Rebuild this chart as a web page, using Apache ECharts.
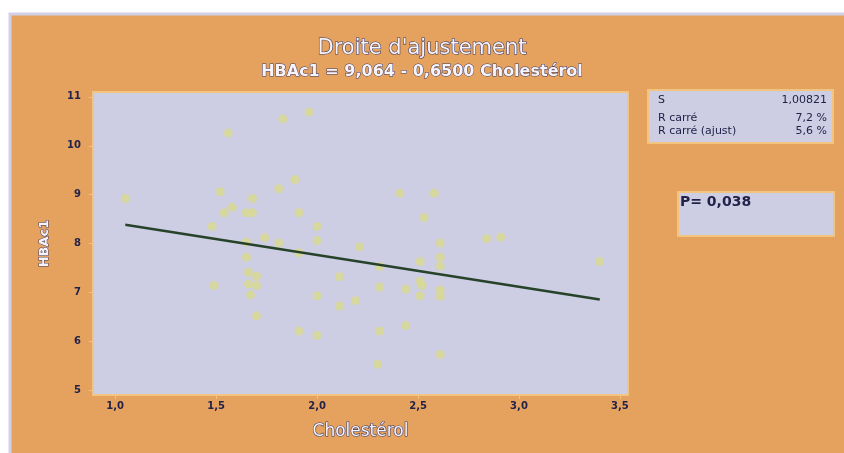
<!DOCTYPE html>
<html>
	<head>
		<meta charset="utf-8">
		<title>Droite d'ajustement</title>
		<script src="https://cdn.jsdelivr.net/npm/echarts@6/dist/echarts.min.js"></script>
		<style>
			html, body { margin: 0; padding: 0; background: #fff; }
		</style>
	</head>
	<body>
		<div id="main" style="width: 844px;height:453px;"></div>
		<script type="text/javascript">
			// données
			var cholesterol = [1.05, 1.56, 1.83, 1.96, 1.52, 1.68, 1.81, 1.89, 1.58, 1.54,
				1.65, 1.68, 1.91, 1.48, 2.00, 1.74, 1.65, 1.81, 2.00, 1.91,
				1.65, 1.66, 1.70, 1.66, 1.70, 1.49, 1.67, 2.00, 2.11, 2.11,
				2.19, 2.21, 1.70, 1.91, 2.00, 2.41, 2.58, 2.53, 2.61, 2.84,
				2.91, 2.61, 2.51, 2.61, 2.31, 3.40, 2.31, 2.44, 2.51, 2.52,
				2.51, 2.61, 2.61, 2.44, 2.31, 2.30, 2.61];
			var hba1c = [8.92, 10.26, 10.55, 10.69, 9.06, 8.92, 9.12, 9.31, 8.74, 8.63,
				8.63, 8.63, 8.63, 8.35, 8.35, 8.12, 8.03, 8.01, 8.06, 7.81,
				7.72, 7.41, 7.33, 7.17, 7.14, 7.14, 6.95, 6.93, 7.32, 6.72,
				6.83, 7.93, 6.52, 6.21, 6.12, 9.03, 9.03, 8.53, 8.01, 8.10,
				8.13, 7.72, 7.63, 7.54, 7.53, 7.63, 7.11, 7.07, 7.23, 7.14,
				6.93, 7.05, 6.92, 6.32, 6.21, 5.53, 5.73];
			var xTicks = [1.0, 1.5, 2.0, 2.5, 3.0, 3.5];
			var yTicks = [5, 6, 7, 8, 9, 10, 11];
			var intercept = 9.064;
			var slope = -0.65;
			var statLabels = ['S', 'R carré', 'R carré (ajust)'];
			var statValues = ['1,00821', '7,2 %', '5,6 %'];
			var pValue = 'P= 0,038';

			var points = cholesterol.map(function(c, i) {
				return [c, hba1c[i]];
			});
			var xMin = Math.min.apply(null, cholesterol);
			var xMax = Math.max.apply(null, cholesterol);
			var fitLine = [
				[xMin, intercept + slope * xMin],
				[xMax, intercept + slope * xMax]
			];

			function virgule(v) {
				return v.toFixed(1).replace('.', ',');
			}

			var fond = '#CDCDE3';
			var bord = '#F3C47F';
			var texteSombre = '#23234a';

			var myChart = echarts.init(document.getElementById('main'));
			var statTexts = [];
			statLabels.forEach(function(lbl, i) {
				var y = [95, 113, 126][i];
				statTexts.push({
					type: 'text', left: 658, top: y,
					style: { text: lbl, fill: texteSombre, font: '11px "DejaVu Sans"' }
				});
				statTexts.push({
					type: 'text', right: 844 - 827, top: y,
					style: { text: statValues[i], fill: texteSombre, font: '11px "DejaVu Sans"' }
				});
			});

			var option = {
				backgroundColor: '#ffffff',
				animation: false,
				title: [{
					text: "Droite d'ajustement",
					left: 'center',
					top: 33,
					textStyle: {
						fontFamily: 'DejaVu Sans',
						fontSize: 21,
						fontWeight: 'normal',
						color: '#f7f3fa',
						textBorderColor: '#3b3b66',
						textBorderWidth: 1.2
					}
				}, {
					text: 'HBAc1 = 9,064 - 0,6500 Cholestérol',
					left: 'center',
					top: 59,
					textStyle: {
						fontFamily: 'DejaVu Sans',
						fontSize: 16,
						fontWeight: 'bold',
						color: '#f7f3fa',
						textBorderColor: '#3b3b66',
						textBorderWidth: 1
					}
				}],
				graphic: [{
					type: 'rect',
					z: -10,
					shape: { x: 10, y: 14, width: 836, height: 441 },
					style: { fill: '#E5A25E', stroke: '#D2D0E8', lineWidth: 3 }
				}, {
					type: 'rect',
					shape: { x: 648, y: 90, width: 185, height: 53 },
					style: { fill: fond, stroke: bord, lineWidth: 2 }
				}, {
					type: 'rect',
					shape: { x: 678, y: 192, width: 156, height: 44 },
					style: { fill: fond, stroke: bord, lineWidth: 2 }
				}, {
					type: 'text',
					left: 680, top: 195,
					style: { text: pValue, fill: texteSombre, font: 'bold 14px "DejaVu Sans"' }
				}].concat(statTexts),
				grid: {
					left: 93,
					top: 92,
					right: 216,
					bottom: 58,
					show: true,
					backgroundColor: fond,
					borderColor: bord,
					borderWidth: 2
				},
				xAxis: {
					type: 'value',
					min: 0.89,
					max: 3.54,
					name: 'Cholestérol',
					nameLocation: 'middle',
					nameGap: 28,
					nameTextStyle: {
						fontFamily: 'DejaVu Sans',
						fontSize: 17,
						color: '#f7f3fa',
						textBorderColor: '#3b3b66',
						textBorderWidth: 1.2
					},
					splitLine: { show: false },
					axisLine: { show: false },
					axisTick: {
						customValues: xTicks,
						length: 4,
						lineStyle: { color: bord }
					},
					axisLabel: {
						customValues: xTicks,
						formatter: virgule,
						fontFamily: 'DejaVu Sans',
						fontSize: 10,
						fontWeight: 'bold',
						color: texteSombre,
						margin: 6
					}
				},
				yAxis: {
					type: 'value',
					min: 4.9,
					max: 11.1,
					name: 'HBAc1',
					nameLocation: 'middle',
					nameGap: 42,
					nameTextStyle: {
						fontFamily: 'DejaVu Sans',
						fontSize: 13,
						fontWeight: 'bold',
						color: '#f7f3fa',
						textBorderColor: '#3b3b66',
						textBorderWidth: 1
					},
					splitLine: { show: false },
					axisLine: { show: false },
					axisTick: {
						customValues: yTicks,
						length: 4,
						lineStyle: { color: bord }
					},
					axisLabel: {
						customValues: yTicks,
						fontFamily: 'DejaVu Sans',
						fontSize: 10,
						fontWeight: 'bold',
						color: texteSombre,
						margin: 12
					}
				},
				series: [{
					name: 'HBAc1',
					type: 'scatter',
					data: points,
					symbolSize: 9,
					itemStyle: { color: '#D9D98F' }
				}, {
					name: 'Ajustement',
					type: 'line',
					data: fitLine,
					symbol: 'none',
					lineStyle: { color: '#26432A', width: 2.5 },
					z: 3
				}]
			};

			myChart.setOption(option);
		</script>
	</body>
</html>
